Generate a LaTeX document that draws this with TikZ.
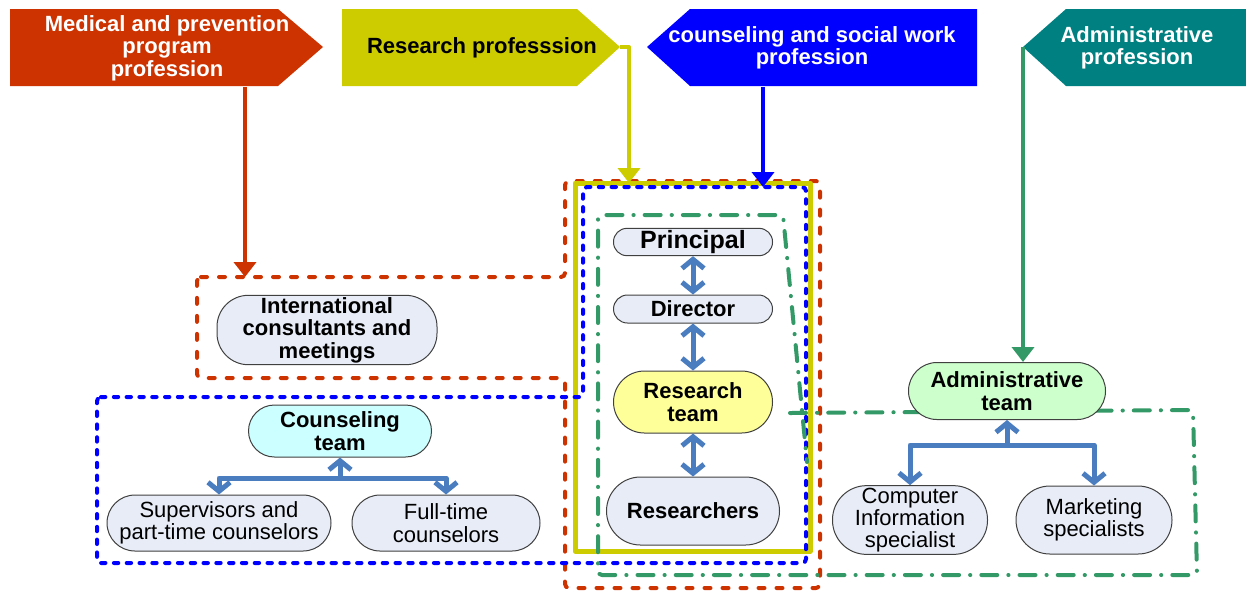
\documentclass[tikz,border=0pt]{standalone}
\usepackage{fontspec}
\setmainfont{Liberation Sans}
\usetikzlibrary{arrows.meta}

\definecolor{medred}{RGB}{204,51,0}
\definecolor{resyellow}{RGB}{204,204,0}
\definecolor{counblue}{RGB}{0,0,255}
\definecolor{admteal}{RGB}{0,128,128}
\definecolor{admgreen}{RGB}{51,153,102}
\definecolor{linkblue}{RGB}{74,124,192}
\definecolor{boxfill}{RGB}{231,236,246}
\definecolor{resfill}{RGB}{255,255,153}
\definecolor{counfill}{RGB}{204,255,255}
\definecolor{admfill}{RGB}{204,255,204}

\begin{document}
\begin{tikzpicture}[x=0.5pt,y=-0.5pt,line join=round,
  hdr/.style={font=\fontsize{11}{11.2}\selectfont\bfseries,align=center,
    inner sep=0pt,minimum height=38.5pt},
  team/.style={draw=black!75,line width=0.5pt,fill=boxfill,align=center,
    inner sep=1pt,font=\fontsize{11}{11.2}\selectfont\bfseries},
  staff/.style={team,font=\fontsize{11}{11.2}\selectfont},
  link/.style={draw=linkblue,line width=2.5pt,
    >={Straight Barb[length=4.5pt,width=11pt]}},
  hdrline/.style={line width=2pt,-{Triangle[length=7.5pt,width=11pt]}},
  medscope/.style={draw=medred,line width=2pt,line cap=round,
    dash pattern=on 3pt off 6pt,rounded corners=2pt},
  counscope/.style={draw=counblue,line width=2pt,line cap=round,
    dash pattern=on 2.2pt off 4.2pt,rounded corners=2pt},
  admscope/.style={draw=admgreen,line width=2pt,line cap=round,
    dash pattern=on 8pt off 5.5pt on 0.1pt off 5.5pt,rounded corners=2pt}]
  \useasboundingbox (0,0) rectangle (1246,591);

  % profession headers
  \fill[medred] (10,9) -- (278,9) -- (323,47) -- (278,86) -- (10,86) -- cycle;
  \fill[resyellow] (342,9) -- (577,9) -- (620,47) coordinate (restip)
    -- (577,86) -- (342,86) -- cycle;
  \fill[counblue] (977,9) -- (690,9) -- (647,47) -- (690,86) -- (977,86) -- cycle;
  \fill[admteal] (1246,9) -- (1066,9) -- (1023,47) coordinate (admtip)
    -- (1066,86) -- (1246,86) -- cycle;
  \node[hdr,text=white] (medhdr) at (167,48)
    {Medical and prevention\\program\\profession};
  \node[hdr] (reshdr) at (482,48) {Research professsion};
  \node[hdr,text=white] (counhdr) at (812,48)
    {counseling and social work\\profession};
  \node[hdr,text=white] (admhdr) at (1137,48) {Administrative\\profession};

  % scopes
  \draw[medscope] (197,277) -- (565,277) -- (565,181) -- (820,181)
    -- (820,588) -- (565,588) -- (565,378) -- (197,378) -- cycle;
  \draw[resyellow,line width=2.5pt] (575,183) rectangle (810,551);
  \draw[counscope] (97,397) -- (583,397) -- (583,187) -- (806,187)
    -- (806,563) -- (97,563) -- cycle;
  \draw[admscope] (790,413) -- (1193,410) -- (1197,575) -- (598,575)
    -- (598,215) -- (783,215) -- (807,462);
  \coordinate (medin) at (245,277);
  \coordinate (resin) at (629,183);
  \coordinate (counin) at (763,187);

  % research team
  \node[team,minimum width=79.5pt,minimum height=13.5pt,rounded corners=6.7pt,
    font=\fontsize{12.5}{13}\selectfont\bfseries] (principal) at (693,242) {Principal};
  \node[team,minimum width=79.5pt,minimum height=14pt,rounded corners=7pt]
    (director) at (693,309) {Director};
  \node[team,fill=resfill,minimum width=79.5pt,minimum height=31pt,
    rounded corners=15.5pt] (resteam) at (693,402) {Research\\team};
  \node[team,minimum width=86.5pt,minimum height=34pt,rounded corners=17pt]
    (researchers) at (693,511) {Researchers};

  % medical
  \node[team,minimum width=110pt,minimum height=31.5pt,rounded corners=15.7pt]
    (intl) at (327,330) {International\\consultants and\\meetings};

  % counseling
  \node[team,fill=counfill,minimum width=91.5pt,minimum height=26pt,
    rounded corners=13pt] (counteam) at (340,431) {Counseling\\team};
  \node[staff,minimum width=112pt,minimum height=28pt,rounded corners=14pt]
    (supcoun) at (219,523) {Supervisors and\\part-time counselors};
  \node[staff,minimum width=94pt,minimum height=28pt,rounded corners=14pt]
    (fullcoun) at (446,523) {Full-time\\counselors};

  % administrative
  \node[team,fill=admfill,minimum width=98.5pt,minimum height=28.5pt,
    rounded corners=14.2pt] (admteam) at (1007,391) {Administrative\\team};
  \node[staff,minimum width=77.5pt,minimum height=34pt,rounded corners=17pt]
    (compinfo) at (910,520) {Computer\\Information\\specialist};
  \node[staff,minimum width=78pt,minimum height=34pt,rounded corners=17pt]
    (market) at (1094,520) {Marketing\\specialists};

  % header connectors
  \draw[hdrline,medred] (medhdr.south -| medin) -- (medin);
  \draw[hdrline,resyellow] (restip) -- (restip -| resin) -- (resin);
  \draw[hdrline,counblue] (counhdr.south -| counin) -- (counin);
  \draw[hdrline,admgreen] (admtip) -- (admtip |- admteam.north);

  % links
  \draw[link,<->] (principal) -- (director);
  \draw[link,<->] (director) -- (resteam);
  \draw[link,<->] (resteam) -- (researchers);
  \coordinate (cbar) at (340,478);
  \draw[link,<->] (supcoun) |- (cbar) -| (fullcoun);
  \draw[link,->] (cbar) -- (counteam);
  \coordinate (abar) at (1007,445);
  \draw[link,<->] (compinfo) |- (abar) -| (market);
  \draw[link,->] (abar) -- (admteam);
\end{tikzpicture}
\end{document}
